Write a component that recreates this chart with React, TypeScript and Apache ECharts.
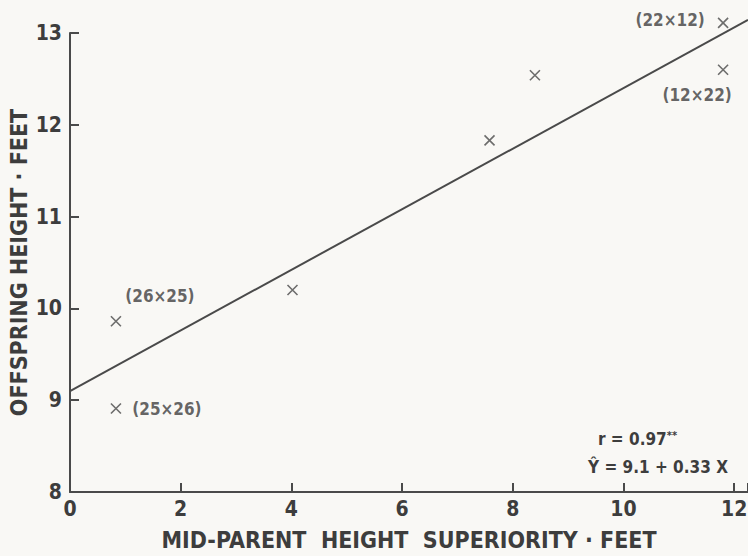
import React, { useEffect, useRef } from "react";
import * as echarts from "echarts";

// Observed points (mid-parent superiority, offspring height)
const xValues = [0.83, 0.83, 4.02, 7.58, 8.4, 11.8, 11.8];
const yValues = [9.86, 8.91, 10.2, 11.83, 12.54, 13.11, 12.6];
const pointLabels = ["(26×25)", "(25×26)", "", "", "", "(22×12)", "(12×22)"];

// Regression Y = 9.1 + 0.33 X
const intercept = 9.1;
const slope = 0.33;
const lineXs = [0, 12.25];

const rText = "r = 0.97";
const eqText = "Ŷ = 9.1 + 0.33 X";
const xAxisName = "MID-PARENT  HEIGHT  SUPERIORITY · FEET";
const yAxisName = "OFFSPRING HEIGHT · FEET";

const labelOffsets: [number, number][] = [
  [44, -25],
  [51, 1],
  [0, 0],
  [0, 0],
  [0, 0],
  [-53, -3],
  [-26, 25],
];

const FONT = "'DejaVu Sans Condensed', 'Liberation Sans', sans-serif";
const INK = "#3d3d3d";

export default function App() {
  const ref = useRef<HTMLDivElement>(null);
  useEffect(() => {
    const chart = echarts.init(ref.current!, null, { renderer: "svg" });
    const pts = xValues.map((x, i) => ({
      value: [x, yValues[i]],
      label: {
        show: pointLabels[i] !== "",
        formatter: pointLabels[i],
        position: "inside",
        offset: labelOffsets[i],
        color: INK,
        fontFamily: FONT,
        fontSize: 17,
        fontWeight: "bold",
      },
    }));
    chart.setOption({
      animation: false,
      backgroundColor: "#f9f8f5",
      grid: {
        left: 70,
        top: 33,
        width: 678,
        height: 459,
        containLabel: false,
        outerBoundsMode: "none",
      },
      xAxis: {
        type: "value",
        min: 0,
        max: 12.25,
        interval: 2,
        splitLine: { show: false },
        axisLine: { show: true, onZero: false, lineStyle: { color: "#4a4a4a", width: 2 } },
        axisTick: { show: true, inside: true, length: 9, lineStyle: { color: "#4a4a4a", width: 2 } },
        axisLabel: {
          margin: 6,
          color: INK,
          fontFamily: FONT,
          fontSize: 21,
          fontWeight: "bold",
          formatter: (v: number) => (v % 2 === 0 && v <= 12 ? String(v) : ""),
        },
        name: xAxisName,
        nameLocation: "middle",
        nameGap: 36,
        nameTextStyle: { color: INK, fontFamily: FONT, fontSize: 23, fontWeight: "bold" },
      },
      yAxis: {
        type: "value",
        min: 8,
        max: 13,
        interval: 1,
        splitLine: { show: false },
        axisLine: { show: true, onZero: false, lineStyle: { color: "#4a4a4a", width: 2 } },
        axisTick: { show: true, inside: true, length: 9, lineStyle: { color: "#4a4a4a", width: 2 } },
        axisLabel: { margin: 8, color: INK, fontFamily: FONT, fontSize: 21, fontWeight: "bold" },
        name: yAxisName,
        nameLocation: "middle",
        nameGap: 40,
        nameMoveOverlap: false,
        nameTextStyle: { color: INK, fontFamily: FONT, fontSize: 23, fontWeight: "bold" },
      },
      series: [
        {
          type: "line",
          data: lineXs.map((x) => [x, intercept + slope * x]),
          symbol: "none",
          clip: false,
          lineStyle: { color: "#4a4a4a", width: 2 },
        },
        {
          type: "scatter",
          data: pts,
          clip: false,
          symbol: "path://M0,0L10,10M10,0L0,10",
          symbolSize: 10,
          itemStyle: { color: "none", borderColor: "#4a4a4a", borderWidth: 1.6 },
        },
      ],
      graphic: [
        {
          type: "text",
          left: 598,
          top: 430,
          style: {
            text: rText + "{s|**}",
            rich: { s: { fontSize: 11, verticalAlign: "top", fill: INK, fontFamily: FONT, fontWeight: "bold" } },
            fill: INK,
            font: `bold 17px ${FONT}`,
          },
        },
        {
          type: "text",
          left: 588,
          top: 458,
          style: { text: eqText, fill: INK, font: `bold 17px ${FONT}` },
        },
      ],
    });
    return () => chart.dispose();
  }, []);
  return (
    <div
      ref={ref}
      style={{ position: "fixed", left: 0, top: 0, width: 748, height: 556 }}
    />
  );
}
